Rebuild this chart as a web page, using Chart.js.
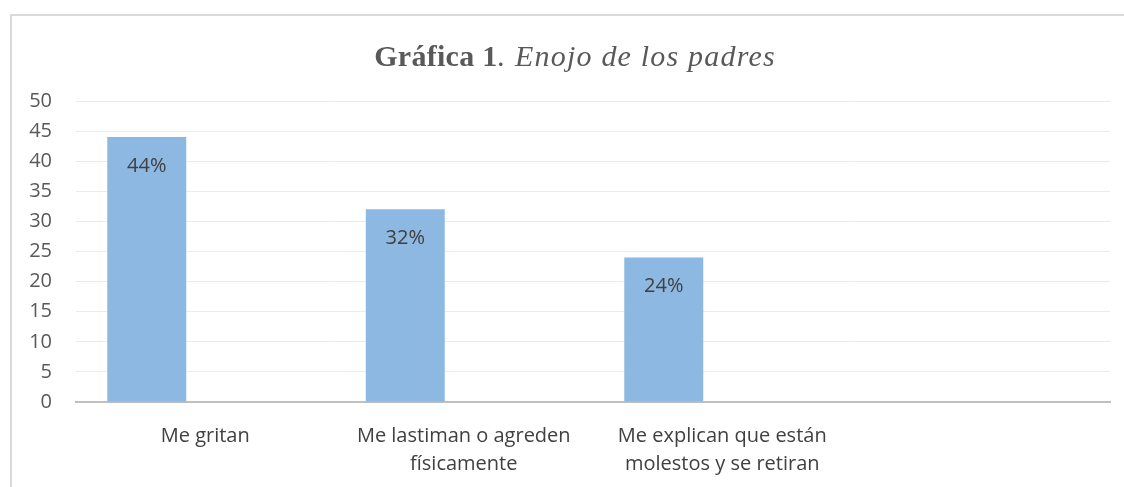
<!DOCTYPE html>
<html lang="es">
  <head>
    <meta charset="utf-8" />
    <title>Gráfica 1. Enojo de los padres</title>
    <style>
      * {
        margin: 0;
        padding: 0;
      }
      body {
        width: 1124px;
        height: 487px;
        background: #fff;
        overflow: hidden;
        position: relative;
      }
      .marco {
        position: absolute;
        left: 10px;
        top: 14px;
        width: 1200px;
        height: 500px;
        border-top: 2px solid #d9d9d9;
        border-left: 2px solid #d9d9d9;
      }
      .chartBox {
        position: absolute;
        left: 0;
        top: 0;
        width: 1124px;
        height: 487px;
      }
    </style>
  </head>
  <body>
    <div class="marco"></div>
    <div class="chartBox">
      <canvas id="grafica"></canvas>
    </div>

    <script src="https://cdn.jsdelivr.net/npm/chart.js"></script>

    <script>
      const categorias = [
        "Me gritan",
        ["Me lastiman o agreden", "físicamente"],
        ["Me explican que están", "molestos y se retiran"],
        "",
      ];
      const valores = [44, 32, 24, null];
      const etiquetas = ["44%", "32%", "24%", ""];
      const vacio = [null, null, null, null];
      const ticksY = { min: 0, max: 50, paso: 5 };

      // titulo en dos estilos: negrita + cursiva
      const tituloPlugin = {
        id: "titulo",
        afterDraw(chart) {
          const ctx = chart.ctx;
          const parteA = "Gráfica 1";
          const parteB = ". Enojo de los padres";
          const fuenteA = "bold 30px 'Liberation Serif'";
          const fuenteB = "italic 30px 'Liberation Serif'";
          ctx.save();
          ctx.fillStyle = "#595959";
          ctx.textBaseline = "alphabetic";
          ctx.font = fuenteA;
          ctx.letterSpacing = "0.3px";
          const wA = ctx.measureText(parteA).width;
          ctx.font = fuenteB;
          ctx.letterSpacing = "1.2px";
          const wB = ctx.measureText(parteB).width;
          let x = 575 - (wA + wB) / 2;
          ctx.font = fuenteA;
          ctx.letterSpacing = "0.3px";
          ctx.fillText(parteA, x, 66);
          ctx.font = fuenteB;
          ctx.letterSpacing = "1.2px";
          ctx.fillText(parteB, x + wA, 66);
          ctx.restore();
        },
      };

      // porcentajes dentro de cada barra
      const etiquetasPlugin = {
        id: "etiquetas",
        afterDatasetsDraw(chart) {
          const ctx = chart.ctx;
          const meta = chart.getDatasetMeta(0);
          ctx.save();
          ctx.fillStyle = "#404040";
          ctx.font = "20px 'Open Sans'";
          ctx.textAlign = "center";
          ctx.textBaseline = "middle";
          meta.data.forEach((bar, i) => {
            if (valores[i] == null) return;
            ctx.fillText(etiquetas[i], bar.x, bar.y + 29);
          });
          ctx.restore();
        },
      };

      const data = {
        labels: categorias,
        datasets: [
          {
            data: valores,
            backgroundColor: "#8db8e2",
            barPercentage: 0.675,
            categoryPercentage: 0.905,
          },
          {
            data: vacio,
            backgroundColor: "#e0894a",
            barPercentage: 0.675,
            categoryPercentage: 0.905,
          },
        ],
      };

      const config = {
        type: "bar",
        data: data,
        options: {
          responsive: false,
          animation: false,
          layout: {
            padding: { top: 101, right: 14, left: 0, bottom: 0 },
          },
          plugins: {
            legend: { display: false },
            tooltip: { enabled: false },
          },
          scales: {
            x: {
              afterFit(scale) {
                scale.height = 85;
              },
              grid: { display: false, drawTicks: false },
              border: { display: true, color: "#bfbfbf", width: 2 },
              ticks: {
                color: "#404040",
                font: { family: "'Open Sans'", size: 20, lineHeight: 1.4 },
                padding: 20,
                maxRotation: 0,
                autoSkip: false,
              },
            },
            y: {
              min: ticksY.min,
              max: ticksY.max,
              afterFit(scale) {
                scale.width = 76;
              },
              grid: { color: "#ebebeb", drawTicks: false },
              border: { display: false },
              ticks: {
                stepSize: ticksY.paso,
                color: "#595959",
                font: { family: "'Open Sans'", size: 20 },
                padding: 24,
              },
            },
          },
        },
        plugins: [tituloPlugin, etiquetasPlugin],
      };

      const canvas = document.getElementById("grafica");
      canvas.width = 1124;
      canvas.height = 487;
      const grafica = new Chart(canvas, config);
    </script>
  </body>
</html>
